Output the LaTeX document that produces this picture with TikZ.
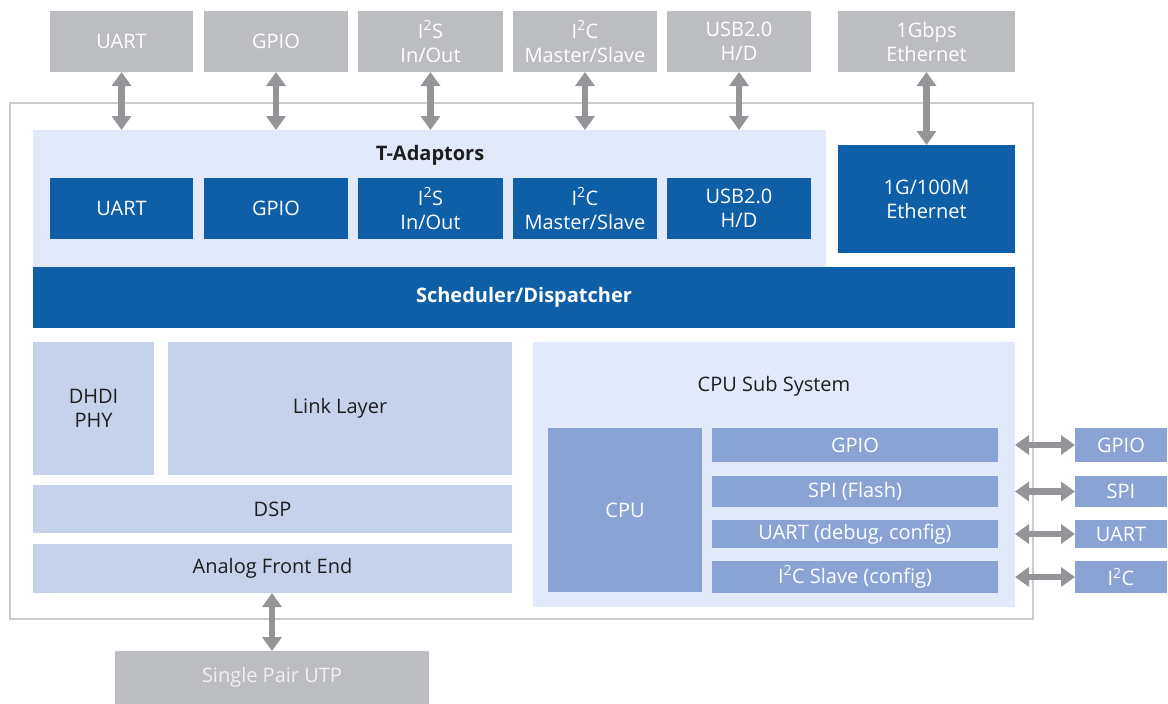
\documentclass[tikz,border=0pt]{standalone}
\usepackage{fontspec}
\setmainfont{Open Sans}
\usetikzlibrary{arrows.meta}
\definecolor{gbox}{HTML}{BCBDC0}
\definecolor{garr}{HTML}{939598}
\definecolor{frame}{HTML}{CCCCCC}
\definecolor{lblue}{HTML}{E1E9FB}
\definecolor{dblue}{HTML}{0E5FA8}
\definecolor{pblue}{HTML}{C5D2EA}
\definecolor{mblue}{HTML}{89A4D4}
\definecolor{dtext}{HTML}{1E1E1E}
\newcommand{\rbox}[7]{\node[#1, minimum width={(#5)-(#4)}, minimum height={(#7)-(#6)}] (#2) at ({((#4)+(#5))/2},{-((#6)+(#7))/2}) {#3};}
\newcommand{\sq}{\textsuperscript{2}}
\tikzset{
  base/.style={inner sep=0pt, outer sep=0pt, align=center, font=\fontsize{20}{24}\selectfont},
  ext/.style={base, fill=gbox, text=white},
  dark/.style={base, fill=dblue, text=white},
  pale/.style={base, fill=pblue, text=dtext},
  med/.style={base, fill=mblue, text=white},
  region/.style={base, fill=lblue},
  outer/.style={base, draw=frame, line width=2pt},
  arr/.style={draw=garr, line width=6.5pt, {Triangle[width=19pt,length=14pt]}-{Triangle[width=19pt,length=14pt]}, shorten <=0pt, shorten >=0pt},
  lbl/.style={inner sep=0pt, font=\fontsize{20}{24}\selectfont, text=dtext}
}
\begin{document}
\begin{tikzpicture}[x=1pt,y=1pt]
\useasboundingbox (0,0) rectangle (1168,-704);
% outer frame
\rbox{outer}{frm}{}{10}{1033}{103}{619}
% external top boxes
\rbox{ext}{xuart}{UART}{50}{193}{11}{72}
\rbox{ext}{xgpio}{GPIO}{204}{348}{11}{72}
\rbox{ext}{xi2s}{I\sq S\\In/Out}{358}{503}{11}{72}
\rbox{ext}{xi2c}{I\sq C\\Master/Slave}{513}{657}{11}{72}
\rbox{ext}{xusb}{USB2.0\\H/D}{667}{811}{11}{72}
\rbox{ext}{xeth}{1Gbps\\Ethernet}{838}{1015}{11}{72}
% T-Adaptors region
\rbox{region}{tad}{}{33}{826}{130}{267}
\node[lbl, font=\fontsize{20}{24}\selectfont\bfseries] (tadl) at (430,-155) {T-Adaptors};
\rbox{dark}{tuart}{UART}{50}{193}{178}{239}
\rbox{dark}{tgpio}{GPIO}{204}{348}{178}{239}
\rbox{dark}{ti2s}{I\sq S\\In/Out}{358}{503}{178}{239}
\rbox{dark}{ti2c}{I\sq C\\Master/Slave}{513}{657}{178}{239}
\rbox{dark}{tusb}{USB2.0\\H/D}{667}{811}{178}{239}
\rbox{dark}{teth}{1G/100M\\Ethernet}{838}{1015}{145}{253}
% scheduler
\rbox{dark}{sched}{\bfseries Scheduler/Dispatcher}{33}{1015}{267}{328}
% PHY side
\rbox{pale}{dhdi}{DHDI\\PHY}{33}{154}{342}{475}
\rbox{pale}{link}{Link Layer}{168}{512}{342}{475}
\rbox{pale}{dsp}{DSP}{33}{512}{485}{533}
\rbox{pale}{afe}{Analog Front End}{33}{512}{544}{593}
% CPU sub system
\rbox{region}{cpus}{}{533}{1015}{342}{607}
\node[lbl] (cpusl) at (774,-386) {CPU Sub System};
\rbox{med}{cpu}{CPU}{548}{702}{428}{592}
\rbox{med}{cgpio}{GPIO}{712}{998}{428}{462}
\rbox{med}{cspi}{SPI (Flash)}{712}{998}{476}{507}
\rbox{med}{cuart}{UART (debug, config)}{712}{998}{520}{548}
\rbox{med}{ci2c}{I\sq C Slave (config)}{712}{998}{561}{593}
% right external boxes
\rbox{med}{rgpio}{GPIO}{1075}{1167}{428}{462}
\rbox{med}{rspi}{SPI}{1075}{1167}{476}{507}
\rbox{med}{ruart}{UART}{1075}{1167}{520}{548}
\rbox{med}{ri2c}{I\sq C}{1075}{1167}{561}{593}
% bottom
\rbox{ext}{utp}{\textcolor{white!94!black}{Single Pair UTP}}{115}{429}{651}{704}
% arrows
\draw[arr] (xuart.south) -- (xuart.south |- tad.north);
\draw[arr] (xgpio.south) -- (xgpio.south |- tad.north);
\draw[arr] (xi2s.south) -- (xi2s.south |- tad.north);
\draw[arr] (xi2c.south) -- (xi2c.south |- tad.north);
\draw[arr] (xusb.south) -- (xusb.south |- tad.north);
\draw[arr] (xeth.south) -- (teth.north);
\draw[arr] (cgpio.east -| cpus.east) -- (rgpio.west);
\draw[arr] (cspi.east -| cpus.east) -- (rspi.west);
\draw[arr] (cuart.east -| cpus.east) -- (ruart.west);
\draw[arr] (ci2c.east -| cpus.east) -- (ri2c.west);
\draw[arr] (afe.south -| utp.north) -- (utp.north);
\end{tikzpicture}
\end{document}
